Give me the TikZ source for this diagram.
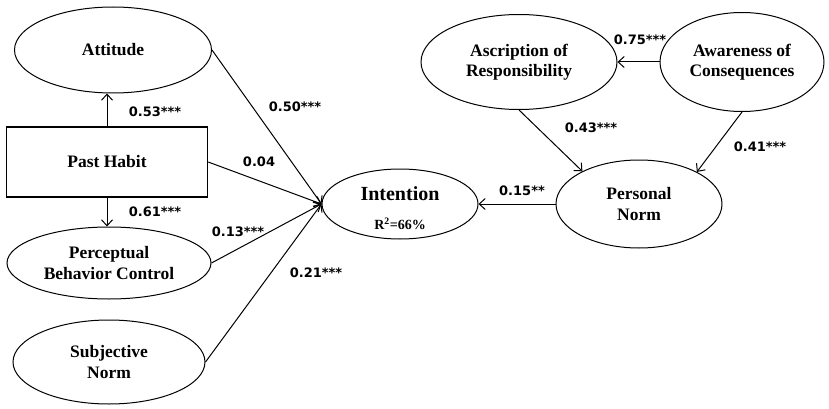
\documentclass[tikz,border=0pt]{standalone}
\usepackage{fontspec}
\setmainfont{Liberation Serif}
\newfontfamily\lblfont{DejaVu Sans}
\usetikzlibrary{shapes.geometric,arrows.meta}
\begin{document}
\begin{tikzpicture}[x=1pt,y=-1pt,
  every path/.style={line width=1pt},
  construct/.style={draw, ellipse, inner sep=0pt, align=center,
    font=\fontsize{17.5}{20.5}\selectfont\bfseries},
  boxnode/.style={draw, rectangle, inner sep=0pt, align=center, line width=1.4pt,
    font=\fontsize{17.5}{20.5}\selectfont\bfseries},
  coef/.style={font=\lblfont\fontsize{13}{15}\selectfont\bfseries, inner sep=0pt},
  path arrow/.style={-{Straight Barb[length=6pt,width=11pt,line width=1pt]}}
]
\useasboundingbox (0,0) rectangle (829,409);

\node[construct, minimum width=197pt, minimum height=86pt] (att) at (113,50) {Attitude};
\node[boxnode, minimum width=201pt, minimum height=70pt] (habit) at (107,162) {Past Habit};
\node[construct, minimum width=204pt, minimum height=72pt] (pbc) at (109,263) {Perceptual\\Behavior Control};
\node[construct, minimum width=192pt, minimum height=84pt] (sn) at (109,362) {Subjective\\Norm};
\node[draw, ellipse, inner sep=0pt, minimum width=156pt, minimum height=70pt] (int) at (400,204) {};
\node[font=\fontsize{20}{22}\selectfont\bfseries, inner sep=0pt] (inttxt) at (400,194) {Intention};
\node[font=\fontsize{14}{16}\selectfont\bfseries, inner sep=0pt] (r2) at (400,224) {R\textsuperscript{2}=66\%};
\node[construct, minimum width=196pt, minimum height=95pt] (ar) at (519,62) {Ascription of\\Responsibility};
\node[construct, minimum width=164pt, minimum height=99pt] (ac) at (742,62) {Awareness of\\Consequences};
\node[construct, minimum width=166pt, minimum height=88pt] (pn) at (639,204) {Personal\\Norm};

\draw[path arrow] (habit.north) -- (habit.north |- att.south);
\draw[path arrow] (habit.south) -- (habit.south |- pbc.north);
\draw[path arrow] (att.east) -- (int.west);
\draw[path arrow] (habit.east) -- (int.west);
\draw[path arrow] (pbc.east) -- (int.west);
\draw[path arrow] (sn.east) -- (int.west);
\draw[path arrow] (ac.west) -- (ar.east);
\draw[path arrow] (ar.south) -- (pn.150);
\draw[path arrow] (ac.south) -- (pn.29);
\draw[path arrow] (pn.west) -- (int.east);

\node[coef] (c53) at (155,112) {0.53***};
\node[coef] (c61) at (155,212) {0.61***};
\node[coef] (c50) at (295,107) {0.50***};
\node[coef] (c04) at (259,162) {0.04};
\node[coef] (c13) at (238,232) {0.13***};
\node[coef] (c21) at (316,273) {0.21***};
\node[coef] (c75) at (640,40) {0.75***};
\node[coef] (c43) at (591,128) {0.43***};
\node[coef] (c41) at (760,147) {0.41***};
\node[coef] (c15) at (522,191) {0.15**};
\end{tikzpicture}
\end{document}
